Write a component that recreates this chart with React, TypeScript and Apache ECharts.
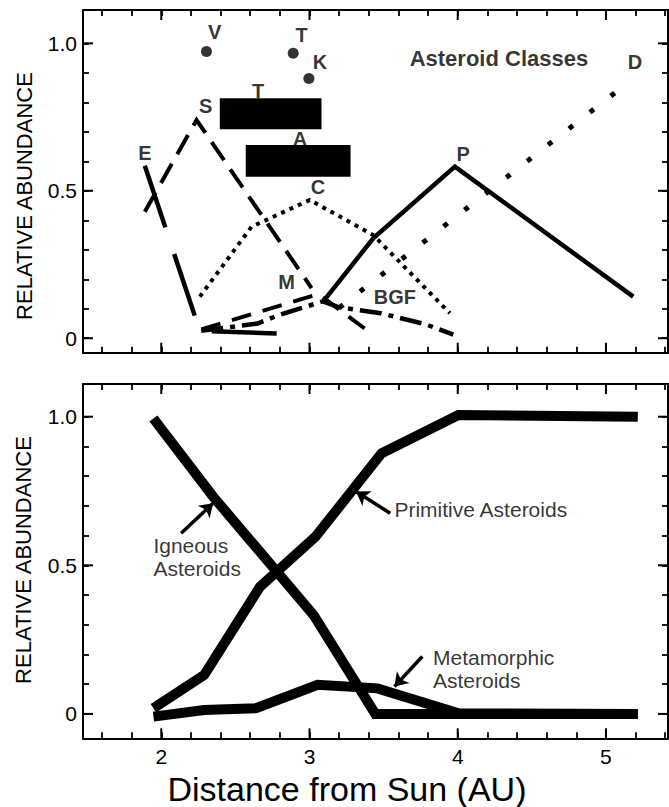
import React, { useEffect, useRef } from "react";
import * as echarts from "echarts";

const FONT = "Liberation Sans, Arial, Helvetica, sans-serif";

// ---------- axes ----------
const X_MIN = 1.472;
const X_MAX = 5.4186;
const TOP_Y_MIN = -0.049;
const TOP_Y_MAX = 1.113;
const BOT_Y_MIN = -0.082;
const BOT_Y_MAX = 1.11;
const X_TICKS = [1.6, 1.8, 2.0, 2.2, 2.4, 2.6, 2.8, 3.0, 3.2, 3.4, 3.6, 3.8, 4.0, 4.2, 4.4, 4.6, 4.8, 5.0, 5.2, 5.4];
const X_MAJOR = [2, 3, 4, 5];
const X_LABELS = [2, 3, 4, 5];
const Y_TICKS = [0, 0.1, 0.2, 0.3, 0.4, 0.5, 0.6, 0.7, 0.8, 0.9, 1.0];
const Y_MAJOR = [0, 0.5, 1.0];
const Y_LABELS = [0, 0.5, 1.0];
const Y_LABEL_TEXT = ["0", "0.5", "1.0"];

// ---------- top panel: asteroid classes ----------
const CLASS_E = [[1.889, 0.585], [2.26, 0.025], [2.82, 0.015]];
const CLASS_S = [[1.889, 0.429], [2.238, 0.74], [3.014, 0.17]];
const CLASS_M = [[2.27, 0.03], [3.06, 0.15], [3.38, 0.03]];
const CLASS_C = [[2.26, 0.141], [2.609, 0.378], [3.002, 0.469], [3.43, 0.35], [3.947, 0.085]];
const CLASS_BGF = [[2.27, 0.025], [2.65, 0.05], [2.8, 0.08], [3.09, 0.125], [3.2, 0.105], [3.48, 0.085], [3.78, 0.048], [3.97, 0.012]];
const CLASS_P = [[3.092, 0.124], [3.43, 0.339], [3.981, 0.582], [5.184, 0.141]];
const CLASS_D = [[3.2, 0.103], [5.07, 0.836]];
const POINT_CLASSES = [[2.305, 0.972], [2.89, 0.966], [2.996, 0.881]]; // V, T, K
const BLACK_BOXES = [[2.395, 0.8136, 3.081, 0.7085], [2.57, 0.655, 3.277, 0.548]];

const TOP_LABEL_TEXT = ["V", "T", "K", "S", "E", "T", "A", "C", "M", "BGF", "P", "D"];
const TOP_LABEL_X = [2.361, 2.946, 3.07, 2.3, 1.889, 2.653, 2.935, 3.058, 2.845, 3.576, 4.037, 5.196];
const TOP_LABEL_Y = [1.039, 1.028, 0.938, 0.787, 0.628, 0.838, 0.676, 0.514, 0.192, 0.141, 0.624, 0.938];
const TITLE_TEXT = "Asteroid Classes";
const TITLE_POS = [4.278, 0.949];

// ---------- bottom panel: groups ----------
const IGNEOUS = [[1.947, 0.994], [2.35, 0.731], [3.027, 0.333], [3.444, 0.0], [5.215, 0.0]];
const PRIMITIVE = [[1.947, 0.019], [2.29, 0.131], [2.666, 0.428], [3.04, 0.596], [3.487, 0.877], [4.005, 1.006], [5.215, 1.0]];
const METAMORPHIC = [[1.947, -0.009], [2.29, 0.013], [2.638, 0.019], [3.055, 0.098], [3.459, 0.086], [4.005, 0.002], [5.215, 0.0]];

const BOT_LABEL_TEXT = ["Igneous\nAsteroids", "Primitive Asteroids", "Metamorphic\nAsteroids"];
const BOT_LABEL_X = [1.947, 3.573, 3.833];
const BOT_LABEL_Y = [0.528, 0.689, 0.15];
const ARROW_FROM = [[2.134, 0.608], [3.545, 0.675], [3.761, 0.193]];
const ARROW_TO = [[2.35, 0.709], [3.314, 0.748], [3.573, 0.092]];

const BLACK = "#000";

function xAxis(gridIndex: number, position: string, labels: boolean) {
  return {
    type: "value",
    gridIndex,
    position,
    min: X_MIN,
    max: X_MAX,
    axisLine: { show: true, onZero: false, lineStyle: { color: BLACK, width: 2 } },
    axisTick: { show: true, inside: true, length: 6, customValues: X_TICKS, lineStyle: { color: BLACK, width: 1.8 } },
    axisLabel: labels
      ? { show: true, customValues: X_LABELS, margin: 8, color: BLACK, fontSize: 21, fontFamily: FONT, formatter: (v: number) => String(v) }
      : { show: false },
    splitLine: { show: false },
  };
}

function yAxis(gridIndex: number, position: string, labels: boolean, min: number, max: number) {
  return {
    type: "value",
    gridIndex,
    position,
    min,
    max,
    axisLine: { show: true, onZero: false, lineStyle: { color: BLACK, width: 2 } },
    axisTick: { show: true, inside: true, length: 6, customValues: Y_TICKS, lineStyle: { color: BLACK, width: 1.8 } },
    axisLabel: labels
      ? {
          show: true,
          customValues: Y_LABELS,
          margin: 6,
          color: BLACK,
          fontSize: 21,
          fontFamily: FONT,
          formatter: (v: number) => {
            const i = Y_LABELS.findIndex((y) => Math.abs(y - v) < 1e-6);
            return i >= 0 ? Y_LABEL_TEXT[i] : "";
          },
        }
      : { show: false },
    splitLine: { show: false },
  };
}

function majorTicks(xAxisIndex: number, yAxisIndex: number, ymin: number) {
  const len = 10;
  return [
    {
      type: "custom",
      xAxisIndex,
      yAxisIndex,
      z: 4,
      silent: true,
      data: X_MAJOR.map((v) => [v, ymin]),
      renderItem: (params: any, api: any) => {
        const cs = params.coordSys;
        const px = api.coord([api.value(0), api.value(1)])[0];
        const top = cs.y;
        const bottom = cs.y + cs.height;
        return {
          type: "group",
          children: [
            { type: "line", shape: { x1: px, y1: bottom, x2: px, y2: bottom - len }, style: { stroke: BLACK, lineWidth: 2 } },
            { type: "line", shape: { x1: px, y1: top, x2: px, y2: top + len }, style: { stroke: BLACK, lineWidth: 2 } },
          ],
        };
      },
    },
    {
      type: "custom",
      xAxisIndex,
      yAxisIndex,
      z: 4,
      silent: true,
      data: Y_MAJOR.map((v) => [X_MIN, v]),
      renderItem: (params: any, api: any) => {
        const cs = params.coordSys;
        const py = api.coord([api.value(0), api.value(1)])[1];
        const left = cs.x;
        const right = cs.x + cs.width;
        return {
          type: "group",
          children: [
            { type: "line", shape: { x1: left, y1: py, x2: left + len, y2: py }, style: { stroke: BLACK, lineWidth: 2 } },
            { type: "line", shape: { x1: right, y1: py, x2: right - len, y2: py }, style: { stroke: BLACK, lineWidth: 2 } },
          ],
        };
      },
    },
  ];
}

function lineSeries(data: number[][], xAxisIndex: number, yAxisIndex: number, width: number, type: any) {
  return {
    type: "line",
    xAxisIndex,
    yAxisIndex,
    data,
    symbol: "none",
    silent: true,
    z: 2,
    lineStyle: { color: BLACK, width, type, cap: "butt", join: "miter" },
  };
}

export default function App() {
  const ref = useRef<HTMLDivElement>(null);

  useEffect(() => {
    if (!ref.current) return;
    const chart = echarts.init(ref.current, undefined, { renderer: "svg" });

    const option: any = {
      animation: false,
      backgroundColor: "#fff",
      grid: [
        { left: 83, top: 10, width: 585, height: 342.7 },
        { left: 83, top: 384, width: 585, height: 354.3 },
      ],
      xAxis: [xAxis(0, "bottom", false), xAxis(0, "top", false), xAxis(1, "bottom", true), xAxis(1, "top", false)],
      yAxis: [
        yAxis(0, "left", true, TOP_Y_MIN, TOP_Y_MAX),
        yAxis(0, "right", false, TOP_Y_MIN, TOP_Y_MAX),
        yAxis(1, "left", true, BOT_Y_MIN, BOT_Y_MAX),
        yAxis(1, "right", false, BOT_Y_MIN, BOT_Y_MAX),
      ],
      graphic: [
        {
          type: "text",
          x: 24,
          y: 196,
          rotation: Math.PI / 2,
          style: { text: "RELATIVE ABUNDANCE", fill: BLACK, font: `22px ${FONT}`, align: "center", verticalAlign: "middle" },
        },
        {
          type: "text",
          x: 23,
          y: 560,
          rotation: Math.PI / 2,
          style: { text: "RELATIVE ABUNDANCE", fill: BLACK, font: `22px ${FONT}`, align: "center", verticalAlign: "middle" },
        },
        {
          type: "text",
          x: 347,
          y: 789,
          style: { text: "Distance from Sun (AU)", fill: BLACK, font: `34px ${FONT}`, align: "center", verticalAlign: "middle" },
        },
      ],
      series: [
        // top panel
        lineSeries(CLASS_E, 0, 0, 4.5, [65, 28]),
        lineSeries(CLASS_S, 0, 0, 4, [22, 11]),
        lineSeries(CLASS_M, 0, 0, 4, [20, 12]),
        lineSeries(CLASS_C, 0, 0, 4, [4, 5.2]),
        lineSeries(CLASS_BGF, 0, 0, 4.5, [22, 7, 5, 7]),
        lineSeries(CLASS_P, 0, 0, 4.5, "solid"),
        lineSeries(CLASS_D, 0, 0, 5, [5, 21.5]),
        {
          type: "scatter",
          xAxisIndex: 0,
          yAxisIndex: 0,
          data: POINT_CLASSES,
          symbol: "circle",
          symbolSize: 11,
          itemStyle: { color: BLACK },
          silent: true,
          z: 3,
        },
        {
          type: "scatter",
          xAxisIndex: 0,
          yAxisIndex: 0,
          symbol: "circle",
          symbolSize: 1,
          itemStyle: { color: "transparent" },
          silent: true,
          z: 3,
          data: [
            ...TOP_LABEL_TEXT.map((t, i) => ({ name: t, value: [TOP_LABEL_X[i], TOP_LABEL_Y[i]] })),
            { name: TITLE_TEXT, value: TITLE_POS, label: { fontSize: 22 } },
          ],
          label: {
            show: true,
            position: "inside",
            formatter: "{b}",
            color: BLACK,
            textBorderWidth: 0,
            fontFamily: FONT,
            fontWeight: "bold",
            fontSize: 20,
            align: "center",
            verticalAlign: "middle",
          },
        },
        {
          type: "custom",
          xAxisIndex: 0,
          yAxisIndex: 0,
          z: 6,
          silent: true,
          data: BLACK_BOXES,
          renderItem: (_params: any, api: any) => {
            const p0 = api.coord([api.value(0), api.value(1)]);
            const p1 = api.coord([api.value(2), api.value(3)]);
            return {
              type: "rect",
              shape: { x: p0[0], y: p0[1], width: p1[0] - p0[0], height: p1[1] - p0[1] },
              style: { fill: BLACK },
            };
          },
        },
        ...majorTicks(0, 0, TOP_Y_MIN),
        // bottom panel
        lineSeries(IGNEOUS, 2, 2, 10, "solid"),
        lineSeries(PRIMITIVE, 2, 2, 10, "solid"),
        lineSeries(METAMORPHIC, 2, 2, 10, "solid"),
        {
          type: "scatter",
          xAxisIndex: 2,
          yAxisIndex: 2,
          symbol: "circle",
          symbolSize: 1,
          itemStyle: { color: "transparent" },
          silent: true,
          z: 3,
          data: BOT_LABEL_TEXT.map((t, i) => ({ name: t, value: [BOT_LABEL_X[i], BOT_LABEL_Y[i]] })),
          label: {
            show: true,
            position: "inside",
            formatter: "{b}",
            color: BLACK,
            textBorderWidth: 0,
            fontFamily: FONT,
            fontSize: 21,
            lineHeight: 23,
            align: "left",
            verticalAlign: "middle",
          },
          markLine: {
            silent: true,
            symbol: ["none", "arrow"],
            symbolSize: 13,
            label: { show: false },
            lineStyle: { color: BLACK, width: 3.5, type: "solid" },
            data: ARROW_FROM.map((f, i) => [{ coord: f }, { coord: ARROW_TO[i] }]),
          },
        },
        ...majorTicks(2, 2, BOT_Y_MIN),
      ],
    };

    chart.setOption(option);
    return () => chart.dispose();
  }, []);

  return <div ref={ref} style={{ position: "absolute", left: 0, top: 0, width: 669, height: 807, background: "#fff" }} />;
}
